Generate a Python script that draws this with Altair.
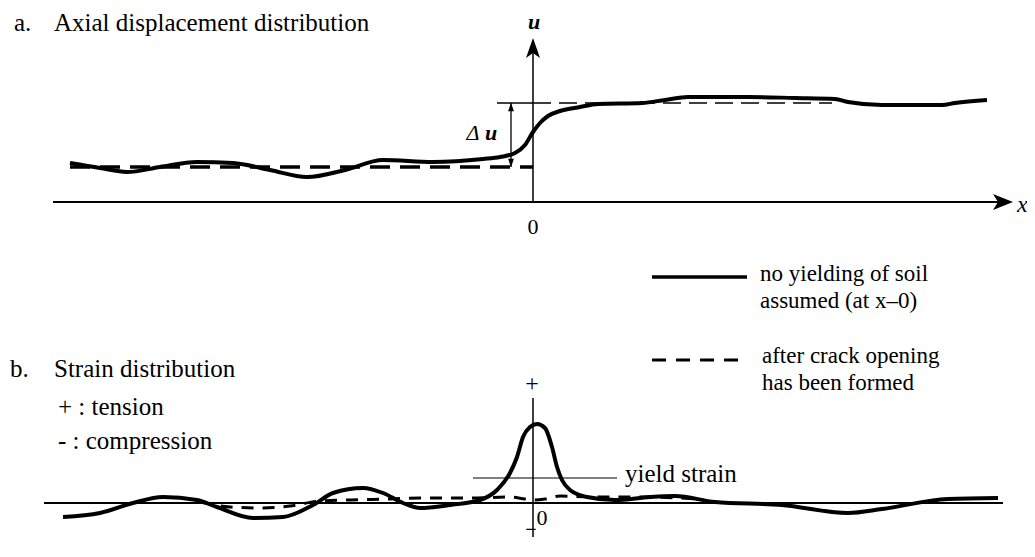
import altair as alt
import pandas as pd

# ---------------- panel a: axial displacement u(x) ----------------
a_solid_x = [-46.3, -43.3, -40.6, -37.3, -33.6, -30.0, -26.3, -22.6, -18.8, -15.0,
             -10.0, -5.0, -3.3, -1.8, -0.8, 0.0, 0.7, 1.5, 2.7, 4.7, 6.5, 10.9,
             13.2, 15.5, 21.5, 26.2, 30.2, 31.5, 34.9, 40.9, 42.2, 45.4]
a_solid_u = [3.9, 3.4, 3.0, 3.5, 4.0, 3.9, 3.2, 2.5, 3.2, 4.2,
             4.0, 4.3, 4.5, 4.9, 5.7, 7.0, 7.9, 8.6, 9.1, 9.5, 9.8, 9.9,
             10.2, 10.5, 10.5, 10.4, 10.3, 10.0, 9.7, 9.7, 9.9, 10.2]
a_dash_left_x = [-46.3, 0.0]
a_dash_left_u = [3.5, 3.5]
a_dash_right_x = [0.0, 29.9]
a_dash_right_u = [9.9, 9.9]
a_axis_x = [-48.0, 47.2]
a_axis_u = [0.0, 16.0]
du_x = -2.2
du_range = [3.5, 9.9]
du_tick_x = [-3.6, 0.0]

# ---------------- panel b: strain distribution eps(x) ----------------
b_solid_x = [-47.0, -43.3, -40.0, -37.0, -33.6, -31.6, -28.0, -25.0, -22.0, -20.0,
             -17.0, -15.0, -13.0, -11.3, -8.3, -5.3, -3.6, -2.3, -1.6, -1.0, -0.3,
             0.4, 1.2, 1.9, 2.4, 2.9, 3.7, 5.4, 8.2, 11.7, 14.2, 18.2, 24.9, 31.5,
             34.9, 41.5, 46.5]
b_solid_eps = [-1.4, -1.0, 0.0, 0.6, 0.3, -0.4, -1.5, -1.4, -0.2, 1.0,
               1.5, 1.0, 0.0, -0.5, -0.2, 0.3, 1.3, 3.0, 4.6, 6.6, 7.6,
               7.9, 7.5, 5.6, 3.6, 2.3, 1.3, 0.6, 0.3, 0.6, 0.7, 0.1, -0.2, -1.0,
               -0.6, 0.4, 0.5]
b_dash_x = [-33.3, -30.3, -27.3, -24.3, -21.3, -18.3, -14.3, -11.3, -6.3, -2.3,
            -0.8, 0.0, 1.2, 2.7, 5.7, 10.7, 16.7]
b_dash_eps = [0.1, -0.4, -0.5, -0.3, 0.2, 0.3, 0.4, 0.5, 0.5, 0.6,
              0.4, 0.3, 0.4, 0.7, 0.6, 0.6, 0.4]
b_axis_x = [-48.9, 47.0]
b_axis_eps = [-3.4, 10.5]
yield_x = [-6.0, 8.4]
yield_eps = 2.5

FONT = "Liberation Serif"
xs = alt.Scale(domain=[-52.5, 49.4], nice=False, zero=False)
us = alt.Scale(domain=[-34.2, 19.4], nice=False, zero=False)
es = alt.Scale(domain=[-4.1, 49.5], nice=False, zero=False)


def df_line(xv, yv, name):
    return pd.DataFrame({"x": xv, name: yv, "i": list(range(len(xv)))})


def line_a(xv, uv, **mk):
    return alt.Chart(df_line(xv, uv, "u")).mark_line(color="black", **mk).encode(
        x=alt.X("x:Q", scale=xs, axis=None),
        y=alt.Y("u:Q", scale=us, axis=None),
        order=alt.Order("i:Q"))


def line_b(xv, ev, **mk):
    return alt.Chart(df_line(xv, ev, "e")).mark_line(color="black", **mk).encode(
        x=alt.X("x:Q", scale=xs, axis=None),
        y=alt.Y("e:Q", scale=es, axis=None),
        order=alt.Order("i:Q"))


def point_a(xv, uv, shape, size):
    return alt.Chart(pd.DataFrame({"x": [xv], "u": [uv]})).mark_point(
        shape=shape, size=size, filled=True, color="black", opacity=1, strokeWidth=0).encode(
        x=alt.X("x:Q", scale=xs, axis=None),
        y=alt.Y("u:Q", scale=us, axis=None))


def label(t, px, py, size=25, align="left", baseline="alphabetic", style="normal", weight="normal"):
    return alt.Chart(pd.DataFrame({"t": [t]})).mark_text(
        font=FONT, fontSize=size, align=align, baseline=baseline, fontStyle=style,
        fontWeight=weight, color="black").encode(
        x=alt.value(px), y=alt.value(py), text="t:N")


RIGHT = "M 1 0 L -1 -0.8 L -0.5 0 L -1 0.8 Z"
UP = "M 0 -1 L 0.7 1 L 0 0.5 L -0.7 1 Z"
TRI_UP = "M 0 -1 L 0.7 1 L -0.7 1 Z"
TRI_DOWN = "M 0 1 L 0.7 -1 L -0.7 -1 Z"

layers = [
    # panel a axes
    line_a(a_axis_x, [0.0, 0.0], strokeWidth=2),
    line_a([0.0, 0.0], a_axis_u, strokeWidth=1.5),
    point_a(a_axis_x[1] - 0.2, 0.0, RIGHT, 400),
    point_a(0.0, a_axis_u[1] - 0.6, UP, 400),
    # panel a curves
    line_a(a_dash_left_x, a_dash_left_u, strokeWidth=3.5, strokeDash=[20, 10]),
    line_a(a_dash_right_x, a_dash_right_u, strokeWidth=1.5, strokeDash=[18, 8]),
    line_a(a_solid_x, a_solid_u, strokeWidth=4, interpolate="monotone"),
    # delta u dimension
    line_a(du_tick_x, [du_range[1], du_range[1]], strokeWidth=1.3),
    line_a([du_x, du_x], du_range, strokeWidth=1.3),
    point_a(du_x, du_range[1] - 0.4, TRI_UP, 70),
    point_a(du_x, du_range[0] + 0.4, TRI_DOWN, 70),
    # panel b axes
    line_b(b_axis_x, [0.0, 0.0], strokeWidth=2),
    line_b([0.0, 0.0], b_axis_eps, strokeWidth=1.5),
    line_b(yield_x, [yield_eps, yield_eps], strokeWidth=1),
    # panel b curves
    line_b(b_dash_x, b_dash_eps, strokeWidth=3, strokeDash=[12, 9], interpolate="monotone"),
    line_b(b_solid_x, b_solid_eps, strokeWidth=4, interpolate="monotone"),
    # legend samples
    alt.Chart(pd.DataFrame({"k": [0]})).mark_rule(color="black", strokeWidth=3.5).encode(
        x=alt.value(644), x2=alt.value(739), y=alt.value(269)),
    alt.Chart(pd.DataFrame({"k": [0]})).mark_rule(color="black", strokeWidth=3, strokeDash=[14, 10]).encode(
        x=alt.value(644), x2=alt.value(739), y=alt.value(352)),
    # texts
    label("a.", 6, 23),
    label("Axial displacement distribution", 46, 23),
    label("u", 526, 14, size=22, align="center", baseline="middle", style="italic", weight="bold"),
    label("x", 1009, 197, size=24, baseline="middle", style="italic"),
    label("0", 525, 219, size=22, align="center", baseline="middle"),
    label("Δ", 465, 125, size=22, align="center", baseline="middle", style="italic"),
    label("u", 483, 125, size=22, align="center", baseline="middle", style="italic", weight="bold"),
    label("no yielding of soil", 752, 273, size=23),
    label("assumed (at x\u20130)", 752, 300, size=23),
    label("after crack opening", 754, 355, size=23),
    label("has been formed", 754, 382, size=23),
    label("b.", 2, 369),
    label("Strain distribution", 46, 369),
    label("+ : tension", 50, 407),
    label("- : compression", 50, 441),
    label("+", 524, 376, size=24, align="center", baseline="middle"),
    label("yield strain", 617, 474),
    label("0", 534, 510, size=22, align="center", baseline="middle"),
    label("\u2212", 523, 522, size=20, align="center", baseline="middle", weight="bold"),
]

chart = alt.layer(*layers).resolve_scale(y="independent").properties(
    width=1019, height=536,
    autosize=alt.AutoSizeParams(type="none"),
    padding=0,
    background="white",
).configure_view(stroke=None)

chart.save("out.html", embed_options={"renderer": "svg", "actions": False})
